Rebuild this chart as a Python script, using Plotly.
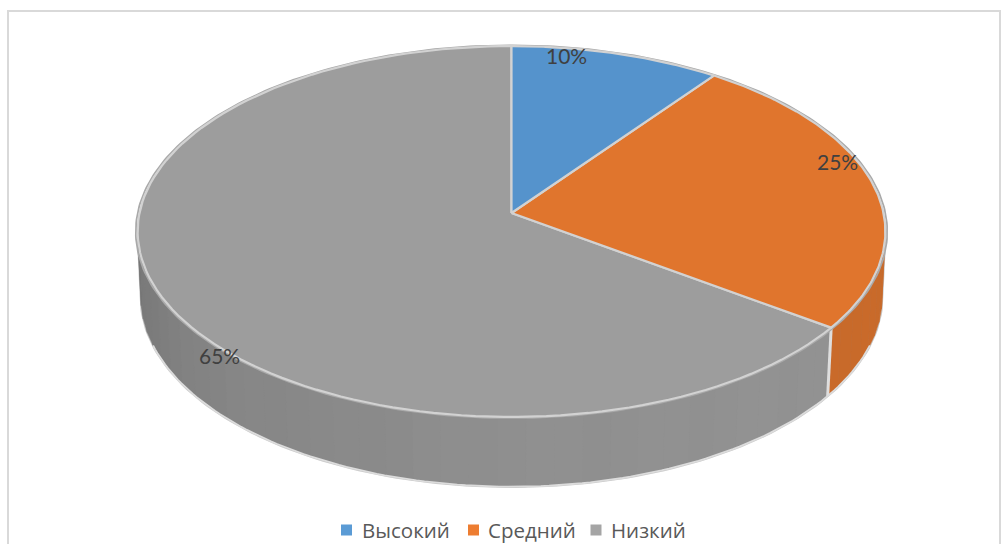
import numpy as np
import plotly.graph_objects as go

categories = ["Высокий", "Средний", "Низкий"]
values = [10, 25, 65]
top_colors = ["#5593cc", "#e0752d", "#9d9d9d"]
legend_colors = ["#5b9bd5", "#ed7d31", "#a5a5a5"]
label_x = [566.5, 837, 219]
label_y = [55.5, 161, 355.5]
legend_marker_x = [346.5, 473.5, 596]
legend_text_x = [359.5, 485.5, 608.5]
legend_y = 530

# perspective model of the pie's disc on the page (page pixels)
TOP = dict(cx=511.5, cy=213, a=372, b=183.6, k=0.0997)
BOT = dict(cx=511.5, cy=279, a=369, b=188, k=0.095)


def project(theta_deg, disc, r=1.0):
    t = np.radians(theta_deg)
    X, Y = r * np.sin(t), -r * np.cos(t)
    d = 1 - disc["k"] * Y
    return disc["cx"] + disc["a"] * X / d, disc["cy"] + disc["b"] * Y / d


def side_color(theta, base):
    # light falls from the front-right; side darkens toward the left
    lev = np.interp(theta, [95, 130, 180, 230, 265], [1.0, 1.0, 0.98, 0.90, 0.80])
    band = 0.006 * ((int(theta) // 8) % 2)
    f = lev + band
    return "rgb(%d,%d,%d)" % tuple(min(255, int(c * f)) for c in base)


fig = go.Figure()
edges = np.cumsum([0] + values) * 3.6

# side wall
side_bases = {1: (200, 106, 42), 2: (146, 146, 146)}
START, END = 95.0, 265.0
outer_t = np.linspace(START, END, 120)
xt, yt = project(outer_t, TOP)
xb, yb = project(outer_t, BOT)
fig.add_trace(go.Scatter(
    x=np.r_[xt, xb[::-1], xt[0]], y=np.r_[yt, yb[::-1], yt[0]], mode="lines",
    line=dict(color="#cacaca", width=2.5), fill="toself", fillcolor="#8f8f8f",
    hoverinfo="skip", showlegend=False))
for i in (1, 2):
    lo, hi = max(edges[i], START), min(edges[i + 1], END)
    steps = np.arange(lo, hi, 4.0)
    for s in steps:
        arc = np.linspace(s, min(s + 4.0, hi), 4)
        x1, y1 = project(arc, TOP)
        x2, y2 = project(arc, BOT)
        c = side_color(s, side_bases[i])
        fig.add_trace(go.Scatter(
            x=np.r_[x1, x2[::-1], x1[0]], y=np.r_[y1, y2[::-1], y1[0]], mode="lines",
            line=dict(color=c, width=0.6), fill="toself", fillcolor=c,
            hoverinfo="skip", showlegend=False))

# light seam between orange and grey walls
sx = [project(edges[2], TOP)[0], project(edges[2], BOT)[0]]
sy = [project(edges[2], TOP)[1], project(edges[2], BOT)[1]]
fig.add_trace(go.Scatter(x=sx, y=sy, mode="lines", line=dict(color="#dedede", width=3),
                         hoverinfo="skip", showlegend=False))
# light lower edge
bt = np.linspace(START + 15, END - 15, 120)
xb2, yb2 = project(bt, BOT)
fig.add_trace(go.Scatter(x=xb2, y=yb2, mode="lines", line=dict(color="#dcdcdc", width=1.8),
                         hoverinfo="skip", showlegend=False))

# outer rim of the top face
rt = np.linspace(0, 360, 361)
xr, yr = project(rt, TOP, 1.005)
fig.add_trace(go.Scatter(x=xr, y=yr, mode="lines", line=dict(color="#a9a9a9", width=1.8),
                         hoverinfo="skip", showlegend=False))

# top face
for i, col in reversed(list(enumerate(top_colors))):
    arc = np.linspace(edges[i], edges[i + 1], 120)
    x, y = project(arc, TOP)
    fig.add_trace(go.Scatter(
        x=np.r_[TOP["cx"], x, TOP["cx"]], y=np.r_[TOP["cy"], y, TOP["cy"]], mode="lines",
        line=dict(color="#d2d2d2", width=2.2), fill="toself", fillcolor=col,
        hoverinfo="skip", showlegend=False))

# legend entries
for name, col, mx, tx in zip(categories, legend_colors, legend_marker_x, legend_text_x):
    fig.add_trace(go.Scatter(x=[mx], y=[legend_y], mode="markers", name=name,
                             marker=dict(symbol="square", size=11, color=col),
                             hoverinfo="skip", showlegend=False))
    fig.add_annotation(x=tx, y=legend_y, xref="x", yref="y", showarrow=False, xanchor="left",
                       text=name, font=dict(family="Open Sans", size=20.5, color="#595959"))

total = sum(values)
for v, lx, ly in zip(values, label_x, label_y):
    fig.add_annotation(x=lx, y=ly, xref="x", yref="y", showarrow=False,
                       text=f"{round(v / total * 100)}%",
                       font=dict(family="Lato", size=21, color="#404040"))

fig.add_shape(type="rect", x0=8, y0=11, x1=1000, y1=560, xref="x", yref="y",
              line=dict(color="#d9d9d9", width=2), layer="below")

fig.update_layout(
    width=1001, height=544, margin=dict(l=0, r=0, t=0, b=0),
    paper_bgcolor="white", plot_bgcolor="white",
    xaxis=dict(range=[0, 1001], visible=False, fixedrange=True),
    yaxis=dict(range=[544, 0], visible=False, fixedrange=True),
    showlegend=False,
    hovermode=False,
)
fig.write_html("out.html", config={"displayModeBar": False},
               post_script="document.body.style.margin='0';document.body.style.overflow='hidden';")
